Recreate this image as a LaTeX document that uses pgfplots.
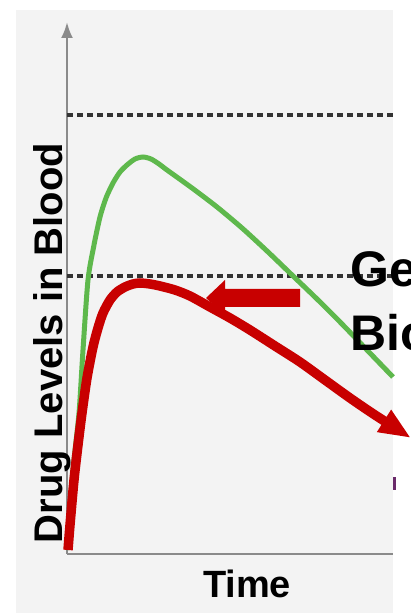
\documentclass[border=0pt]{standalone}
\usepackage{pgfplots}
\pgfplotsset{compat=1.18}
\usepackage{fontspec}
\setmainfont{Liberation Sans}
\usetikzlibrary{arrows.meta}

\definecolor{panel}{HTML}{F3F3F3}
\definecolor{axisgray}{HTML}{8A8A8A}
\definecolor{dashgray}{HTML}{333333}
\definecolor{brandgreen}{HTML}{5EB84C}
\definecolor{genred}{HTML}{C80000}
\definecolor{fragpurple}{HTML}{6A2A6A}

\begin{document}
\begin{tikzpicture}[x=1pt,y=1pt]
\begin{scope}
\clip (0,0) rectangle (411,613);
% panel background
\fill[panel] (16,0) rectangle (393,603);

\begin{axis}[
  at={(67pt,59pt)}, anchor=origin,
  x=1pt, y=1pt,
  xmin=0, xmax=326, ymin=0, ymax=532,
  hide axis, clip=false,
]
% axes
\draw[axisgray, line width=2.6pt] (axis cs:0,0) -- (axis cs:326,0);
\draw[axisgray, line width=2.6pt, -{Latex[length=16pt,width=12pt]}] (axis cs:0,0) -- (axis cs:0,532);
% reference levels
\draw[dashgray, line width=3.2pt, dash pattern=on 6pt off 4pt] (axis cs:0,439) -- (axis cs:326,439);
\draw[dashgray, line width=3.2pt, dash pattern=on 6pt off 4pt] (axis cs:0,278) -- (axis cs:326,278);

% brand-name drug level
\addplot[brandgreen, line width=5pt, smooth, tension=0.45] coordinates {
  (0,4) (6,84) (12,141) (16,204) (21,274) (27,309) (33,337) (39,356)
  (46,371) (53,382) (60,389) (68,395) (76,397) (84,395) (92,390)
  (100,384) (125,366) (150,347) (175,326) (200,303) (225,279)
  (250,255) (275,230) (300,204) (326,177)
};

% generic drug level
\addplot[genred, line width=9.5pt, smooth, tension=0.45,
  -{Triangle[length=32pt,width=24pt]}] coordinates {
  (1,4) (3,29) (7,74) (11,109) (15,141) (20,176) (26,207) (31,226)
  (36,241) (43,254) (50,262) (58,267) (66,270) (73,271) (83,270)
  (93,268) (108,264) (123,258) (143,247) (163,236) (183,224)
  (208,208) (233,192) (258,174) (283,156) (308,139) (344,116)
};

% pointer to the generic peak
\fill[genred] (axis cs:139,256) -- (axis cs:158,274) -- (axis cs:158,265)
  -- (axis cs:233,265) -- (axis cs:233,247) -- (axis cs:158,247)
  -- (axis cs:158,239) -- cycle;
\end{axis}

% labels
\node[anchor=base, inner sep=0pt] at (247,15)
  {\fontsize{38}{40}\selectfont\bfseries Time};
\node[anchor=base, rotate=90, inner sep=0pt] at (62,270)
  {\fontsize{40}{42}\selectfont\bfseries Drug Levels in Blood};
\node[anchor=base west, inner sep=0pt] at (350,326)
  {\fontsize{50}{52}\selectfont\bfseries Generic};
\node[anchor=base west, inner sep=0pt] at (350,262)
  {\fontsize{50}{52}\selectfont\bfseries Bioequivalent};
\fill[fragpurple] (393,123) rectangle (396,136);
\end{scope}
\pgfresetboundingbox
\path[use as bounding box] (0,0) rectangle (411,613);
\end{tikzpicture}
\end{document}
